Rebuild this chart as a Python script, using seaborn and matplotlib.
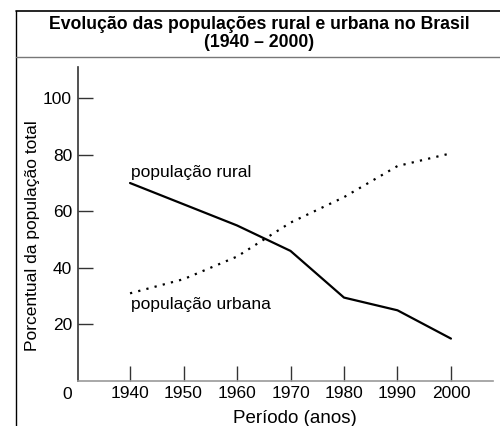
import matplotlib
matplotlib.use("Agg")
import matplotlib.pyplot as plt
from matplotlib.lines import Line2D
import seaborn as sns
import pandas as pd

# dados
anos = [1940, 1950, 1960, 1970, 1980, 1990, 2000]
rural = [70, 62.5, 55, 46, 29.5, 25, 15]
urbana = [31, 36, 44, 56, 65, 76, 80.5]
yticks = [20, 40, 60, 80, 100]

sns.set_theme(style="white")
plt.rcParams['font.family'] = ['Liberation Sans', 'DejaVu Sans']
plt.rcParams['text.color'] = 'black'
plt.rcParams['axes.labelcolor'] = 'black'

df = pd.DataFrame({'ano': anos + anos,
                   'pct': rural + urbana,
                   'serie': ['rural'] * len(anos) + ['urbana'] * len(anos)})

fig = plt.figure(figsize=(5, 4.26), dpi=100)
ax = fig.add_axes([0.156, 0.1056, 0.83, 0.737])

sns.lineplot(data=df[df.serie == 'rural'], x='ano', y='pct', ax=ax,
             color='black', linewidth=1.6)
sns.lineplot(data=df[df.serie == 'urbana'], x='ano', y='pct', ax=ax,
             color='black', linewidth=1.6, linestyle=(0, (1, 2.8)))

ax.set_xlim(1930.27, 2007.86)
ax.set_ylim(0, 111)
ax.set_xticks(anos)
ax.set_yticks(yticks)
ax.tick_params(axis='both', direction='in', length=10.8, width=1,
               color='#333333', labelsize=12.5, labelcolor='black',
               bottom=True, left=True)
ax.tick_params(axis='y', pad=4.3)
ax.tick_params(axis='x', pad=3.6)

for s in ['top', 'right']:
    ax.spines[s].set_visible(False)
ax.spines['left'].set_color('#333333')
ax.spines['bottom'].set_color('#999999')
ax.spines['left'].set_linewidth(1.2)
ax.spines['bottom'].set_linewidth(1.2)

ax.set_xlabel('Período (anos)', fontsize=13.5)
ax.xaxis.set_label_coords(0.523, -0.092)
ax.set_ylabel('Porcentual da população total', fontsize=12.5)
ax.yaxis.set_label_coords(-0.0916, 0.462)
ax.text(-0.015, -0.02, '0', transform=ax.transAxes, ha='right', va='top', fontsize=12.5)

ax.text(1940.2, 73.7, 'população rural', fontsize=12.5, va='center', ha='left')
ax.text(1940.2, 26.9, 'população urbana', fontsize=12.5, va='center', ha='left')

# moldura e título
fig.add_artist(Line2D([0.032, 0.032], [0, 0.974], color='black', lw=1, transform=fig.transFigure))
fig.add_artist(Line2D([0.032, 1], [0.974, 0.974], color='black', lw=1.2, transform=fig.transFigure))
fig.add_artist(Line2D([0.032, 1], [0.866, 0.866], color='#777777', lw=1, transform=fig.transFigure))
fig.text(0.518, 0.921, 'Evolução das populações rural e urbana no Brasil\n(1940 – 2000)',
         ha='center', va='center', fontsize=12.7, fontweight='bold', linespacing=1.05,
         color='black')

fig.savefig('out.png', dpi=100)
